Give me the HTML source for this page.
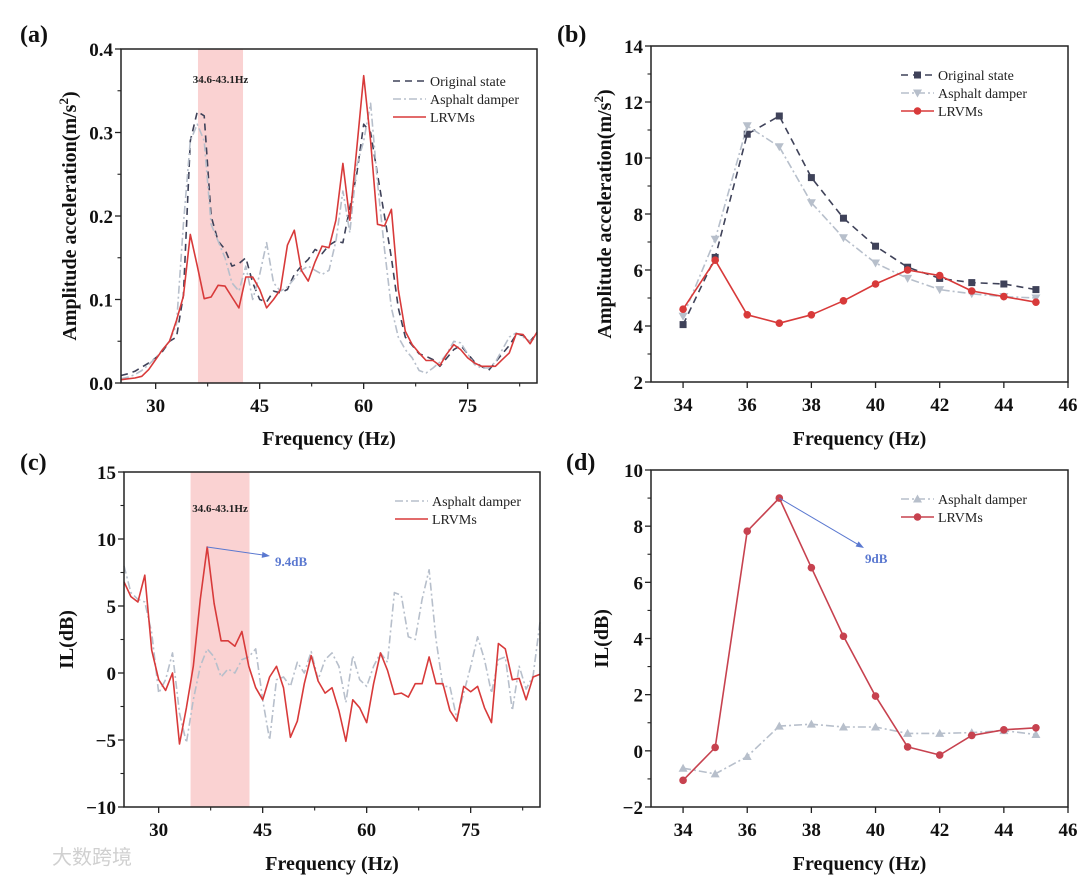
<!DOCTYPE html>
<html><head><meta charset="utf-8">
<style>
html,body{margin:0;padding:0;background:#fff;}
svg{display:block;font-family:"Liberation Serif",serif;}
</style></head>
<body>
<svg id="fig" width="1080" height="877" viewBox="0 0 1080 877" xmlns="http://www.w3.org/2000/svg"></svg>
<script>
// ---------- data ----------
const freqA = [25,26,27,28,29,30,31,32,33,34,35,36,37,38,39,40,41,42,43,44,45,46,47,48,49,50,51,52,53,54,55,56,57,58,59,60,61,62,63,64,65,66,67,68,69,70,71,72,73,74,75,76,77,78,79,80,81,82,83,84,85];
const aOriginal = [.009,.011,.014,.019,.024,.030,.038,.050,.055,.105,.290,.325,.320,.200,.170,.160,.140,.143,.150,.120,.100,.097,.110,.108,.112,.130,.140,.148,.160,.155,.165,.170,.168,.210,.250,.310,.300,.250,.200,.150,.090,.055,.045,.035,.032,.028,.020,.030,.040,.045,.035,.025,.020,.015,.025,.035,.045,.058,.057,.050,.060];
const aAsphalt = [.005,.007,.010,.015,.022,.030,.040,.050,.070,.190,.290,.310,.290,.190,.170,.150,.120,.110,.140,.100,.130,.168,.120,.110,.115,.125,.135,.140,.135,.130,.135,.170,.230,.180,.260,.290,.335,.240,.160,.090,.055,.040,.030,.015,.012,.018,.025,.035,.050,.048,.035,.022,.018,.018,.025,.040,.055,.060,.055,.050,.055];
const aLRVM = [.004,.005,.006,.008,.016,.028,.040,.050,.075,.104,.178,.140,.101,.103,.117,.116,.103,.090,.127,.127,.112,.090,.100,.112,.165,.183,.135,.122,.145,.164,.162,.195,.263,.195,.280,.368,.290,.190,.188,.208,.112,.062,.046,.036,.027,.027,.021,.035,.046,.040,.030,.024,.020,.020,.020,.028,.036,.059,.058,.047,.061];
const cAsphalt = [8.0,6.0,5.5,5.3,3.0,-1.5,-0.5,1.5,-3,-5.2,-2,0.5,1.8,1.2,-0.3,0.3,0,1,1.2,1.8,-2,-5,-0.5,-0.3,-1,0.8,0,1.6,-0.5,1.0,1.5,0.5,-2.2,1.3,-0.5,-1,0.5,1.5,0.8,6.0,5.8,2.7,2.5,5.5,7.7,2.5,-1.0,-1.0,-3.4,-1.5,0.5,2.7,1.0,-1.5,1.0,1.2,-2.8,0.5,-1.2,-0.2,3.8];
const cLRVM = [6.8,5.7,5.3,7.3,1.7,-0.5,-1.3,0,-5.3,-2.6,0.5,5.5,9.4,5.2,2.4,2.4,2.0,3.1,0.5,-1.1,-2.0,-0.3,0.5,-1.1,-4.8,-3.6,-0.8,1.3,-0.6,-1.5,-1.1,-2.8,-5.1,-2.0,-2.6,-3.7,-0.8,1.5,0.2,-1.6,-1.5,-1.8,-0.8,-0.8,1.2,-0.8,-0.8,-2.8,-3.6,-1.0,-1.4,-1.0,-2.6,-3.7,2.2,1.8,-0.5,-0.4,-2.0,-0.3,-0.1];
const freqB = [34,35,36,37,38,39,40,41,42,43,44,45];
const bOriginal = [4.05,6.45,10.85,11.5,9.3,7.85,6.85,6.1,5.7,5.55,5.5,5.3];
const bAsphalt = [4.35,7.1,11.15,10.4,8.4,7.15,6.25,5.7,5.3,5.15,5.05,5.0];
const bLRVM = [4.6,6.35,4.4,4.1,4.4,4.9,5.5,6.0,5.8,5.25,5.05,4.85];
const dLRVM = [-1.05,0.12,7.82,9.0,6.52,4.08,1.95,0.14,-0.15,0.55,0.75,0.82];
const dAsphalt = [-0.62,-0.82,-0.2,0.88,0.95,0.85,0.85,0.62,0.62,0.65,0.72,0.58];
const ticksWide = [30,45,60,75];
const ticksNarrow = [34,36,38,40,42,44,46];
const ticksAY = [0,0.1,0.2,0.3,0.4];
const ticksBY = [2,4,6,8,10,12,14];
const ticksCY = [-10,-5,0,5,10,15];
const ticksDY = [-2,0,2,4,6,8,10];
const bandLabel = [34.6,43.1];
const bandA = [36.1,42.6];
const bandC = [34.6,43.1];

const NS='http://www.w3.org/2000/svg';
const svg=document.getElementById('fig');
function mk(tag,attrs,parent){const e=document.createElementNS(NS,tag);for(const k in attrs)e.setAttribute(k,attrs[k]);(parent||svg).appendChild(e);return e;}
function txt(s,attrs,parent){const e=mk('text',attrs,parent);e.textContent=s;return e;}

function panel(cfg){
  const g=mk('g',{});
  
  
  const X=v=>cfg.L+(v-cfg.x0)/(cfg.x1-cfg.x0)*(cfg.R-cfg.L);
  const Y=v=>cfg.B-(v-cfg.y0)/(cfg.y1-cfg.y0)*(cfg.B-cfg.T);
  if(cfg.band){
    const r=mk('rect',{x:X(cfg.band[0]),y:cfg.T,width:X(cfg.band[1])-X(cfg.band[0]),height:cfg.B-cfg.T,fill:'#f9caca',opacity:0.85},g);
    
    
    const bt=txt(bandLabel[0]+'-'+bandLabel[1]+'Hz',{x:(X(cfg.band[0])+X(cfg.band[1]))/2,y:cfg.bandLabelY,'text-anchor':'middle','font-size':11,'font-weight':'bold',fill:'#222'},g);
    
    
  }
  cfg.series.forEach(s=>{
    const pts=s.y.map((v,i)=>X(s.x[i]).toFixed(1)+','+Y(v).toFixed(1)).join(' ');
    const pl=mk('polyline',{points:pts,fill:'none',stroke:s.color,'stroke-width':s.w||1.6,'stroke-dasharray':s.dash||'','stroke-linejoin':'round'},g);
    
    
    if(s.marker){
      s.y.forEach((v,i)=>{
        const cx=X(s.x[i]),cy=Y(v);let m;
        if(s.marker==='square')m=mk('rect',{x:cx-3.5,y:cy-3.5,width:7,height:7,fill:s.color},g);
        else if(s.marker==='circle')m=mk('circle',{cx:cx,cy:cy,r:3.8,fill:s.color},g);
        else if(s.marker==='tdown')m=mk('polygon',{points:`${cx-4.5},${cy-3.5} ${cx+4.5},${cy-3.5} ${cx},${cy+4.5}`,fill:s.color},g);
        else m=mk('polygon',{points:`${cx-4.5},${cy+3.5} ${cx+4.5},${cy+3.5} ${cx},${cy-4.5}`,fill:s.color},g);
        
        
      });
    }
  });
  const fr=mk('rect',{x:cfg.L,y:cfg.T,width:cfg.R-cfg.L,height:cfg.B-cfg.T,fill:'none',stroke:'#222','stroke-width':1.5},g);
  
  
  cfg.xt.forEach((t,i)=>{
    mk('line',{x1:X(t),x2:X(t),y1:cfg.B,y2:cfg.B+6,stroke:'#222','stroke-width':1.3},g);
    if(cfg.xminor){const m=t+cfg.xminor; if(m<cfg.x1) mk('line',{x1:X(m),x2:X(m),y1:cfg.B,y2:cfg.B+3.5,stroke:'#222','stroke-width':1.1},g);
      if(i===0){const m0=t-cfg.xminor; if(m0>cfg.x0) mk('line',{x1:X(m0),x2:X(m0),y1:cfg.B,y2:cfg.B+3.5,stroke:'#222','stroke-width':1.1},g);}}
    const l=txt(String(t),{x:X(t),y:cfg.B+29,'text-anchor':'middle','font-size':19,'font-weight':'bold',fill:'#111'},g);
    
    
  });
  cfg.yt.forEach((t,i)=>{
    mk('line',{x1:cfg.L-6,x2:cfg.L,y1:Y(t),y2:Y(t),stroke:'#222','stroke-width':1.3},g);
    if(i<cfg.yt.length-1){const m=(t+cfg.yt[i+1])/2;mk('line',{x1:cfg.L-3.5,x2:cfg.L,y1:Y(m),y2:Y(m),stroke:'#222','stroke-width':1.1},g);}
    const s=cfg.yfmt?cfg.yfmt(t):String(t).replace('-','\u2212');
    const l=txt(s,{x:cfg.L-8,y:Y(t)+7,'text-anchor':'end','font-size':19,'font-weight':'bold',fill:'#111'},g);
    
    
  });
  const xt=txt('Frequency (Hz)',{x:(cfg.L+cfg.R)/2,y:cfg.xTitleY,'text-anchor':'middle','font-size':20,'font-weight':'bold',fill:'#111'},g);
  
  
  const yt=mk('text',{x:0,y:0,transform:`translate(${cfg.yTitleX},${(cfg.T+cfg.B)/2}) rotate(-90)`,'text-anchor':'middle','font-size':20,'font-weight':'bold',fill:'#111'},g);
  yt.innerHTML=cfg.ytitle;
  
  
  const pl=txt(cfg.label,{x:cfg.labelX,y:cfg.labelY,'font-size':24,'font-weight':'bold',fill:'#111'},g);
  
  
  cfg.series.forEach((s,i)=>{
    const ly=cfg.legY+i*18;
    const le=mk('g',{},g);
    
    
    mk('line',{x1:cfg.legX,x2:cfg.legX+33,y1:ly,y2:ly,stroke:s.color,'stroke-width':s.w||1.6,'stroke-dasharray':s.dash||''},le);
    if(s.marker){const cx=cfg.legX+16.5;
      if(s.marker==='square')mk('rect',{x:cx-3.5,y:ly-3.5,width:7,height:7,fill:s.color},le);
      else if(s.marker==='circle')mk('circle',{cx:cx,cy:ly,r:3.8,fill:s.color},le);
      else if(s.marker==='tdown')mk('polygon',{points:`${cx-4.5},${ly-3.5} ${cx+4.5},${ly-3.5} ${cx},${ly+4.5}`,fill:s.color},le);
      else mk('polygon',{points:`${cx-4.5},${ly+3.5} ${cx+4.5},${ly+3.5} ${cx},${ly-4.5}`,fill:s.color},le);}
    txt(s.label,{x:cfg.legX+37,y:ly+5,'font-size':14,fill:'#222'},le);
  });
  if(cfg.arrow){
    const a=cfg.arrow;const x1=X(a.x),y1=Y(a.y);
    const dx=a.tx-x1,dy=a.ty-y1,len=Math.hypot(dx,dy),ux=dx/len,uy=dy/len;
    const ag=mk('g',{},g);
    
    
    mk('line',{x1:x1,y1:y1,x2:a.tx-ux*6,y2:a.ty-uy*6,stroke:'#5a78d0','stroke-width':1},ag);
    mk('polygon',{points:`${a.tx},${a.ty} ${a.tx-ux*8-uy*3},${a.ty-uy*8+ux*3} ${a.tx-ux*8+uy*3},${a.ty-uy*8-ux*3}`,fill:'#5a78d0'},ag);
    txt(a.text,{x:a.lx,y:a.ly,'font-size':13,'font-weight':'bold',fill:'#5a78d0'},ag);
  }
}

const RED='#d83a3a',DARK='#3f4259',GRAY='#b7bfcb',CRIM='#c7424f';
panel({name:'panel-a',label:'(a)',labelX:20,labelY:42,L:121,R:537,T:49,B:383,x0:25,x1:85,y0:0,y1:0.4,
  xt:ticksWide,xminor:7.5,yt:ticksAY,yfmt:t=>t.toFixed(1),xTitleY:445,yTitleX:76,
  ytitle:'Amplitude acceleration(m/s<tspan dy="-8" font-size="13">2</tspan><tspan dy="8">)</tspan>',
  band:bandA,bandLabelY:83,legX:393,legY:81,
  series:[{id:'original',label:'Original state',x:freqA,y:aOriginal,color:DARK,dash:'7,5'},
          {id:'asphalt',label:'Asphalt damper',x:freqA,y:aAsphalt,color:GRAY,dash:'8,3,2,3'},
          {id:'lrvm',label:'LRVMs',x:freqA,y:aLRVM,color:RED}]});
panel({name:'panel-b',label:'(b)',labelX:557,labelY:42,L:651,R:1068,T:46,B:382,x0:33,x1:46,y0:2,y1:14,
  xt:ticksNarrow,xminor:0,yt:ticksBY,xTitleY:445,yTitleX:611,
  ytitle:'Amplitude acceleration(m/s<tspan dy="-8" font-size="13">2</tspan><tspan dy="8">)</tspan>',
  legX:901,legY:75,
  series:[{id:'original',label:'Original state',x:freqB,y:bOriginal,color:DARK,dash:'7,5',marker:'square'},
          {id:'asphalt',label:'Asphalt damper',x:freqB,y:bAsphalt,color:GRAY,dash:'8,3,2,3',marker:'tdown'},
          {id:'lrvm',label:'LRVMs',x:freqB,y:bLRVM,color:RED,marker:'circle'}]});
panel({name:'panel-c',label:'(c)',labelX:20,labelY:470,L:124,R:540,T:472,B:807,x0:25,x1:85,y0:-10,y1:15,
  xt:ticksWide,xminor:7.5,yt:ticksCY,xTitleY:870,yTitleX:73,ytitle:'IL(dB)',
  band:bandC,bandLabelY:512,legX:395,legY:501,
  arrow:{x:37,y:9.4,tx:270,ty:556,text:'9.4dB',lx:275,ly:566},
  series:[{id:'asphalt',label:'Asphalt damper',x:freqA,y:cAsphalt,color:GRAY,dash:'8,3,2,3'},
          {id:'lrvm',label:'LRVMs',x:freqA,y:cLRVM,color:RED}]});
panel({name:'panel-d',label:'(d)',labelX:566,labelY:470,L:651,R:1068,T:470,B:807,x0:33,x1:46,y0:-2,y1:10,
  xt:ticksNarrow,xminor:0,yt:ticksDY,xTitleY:870,yTitleX:608,ytitle:'IL(dB)',
  legX:901,legY:499,
  arrow:{x:37,y:9.0,tx:864,ty:548,text:'9dB',lx:865,ly:563},
  series:[{id:'asphalt',label:'Asphalt damper',x:freqB,y:dAsphalt,color:GRAY,dash:'8,3,2,3',marker:'tup'},
          {id:'lrvm',label:'LRVMs',x:freqB,y:dLRVM,color:CRIM,marker:'circle'}]});
const wm=txt('大数跨境',{x:52,y:864,'font-size':20,fill:'#d0d0d0','font-family':'"Liberation Sans","Noto Sans CJK SC",sans-serif'});


</script>
</body></html>
